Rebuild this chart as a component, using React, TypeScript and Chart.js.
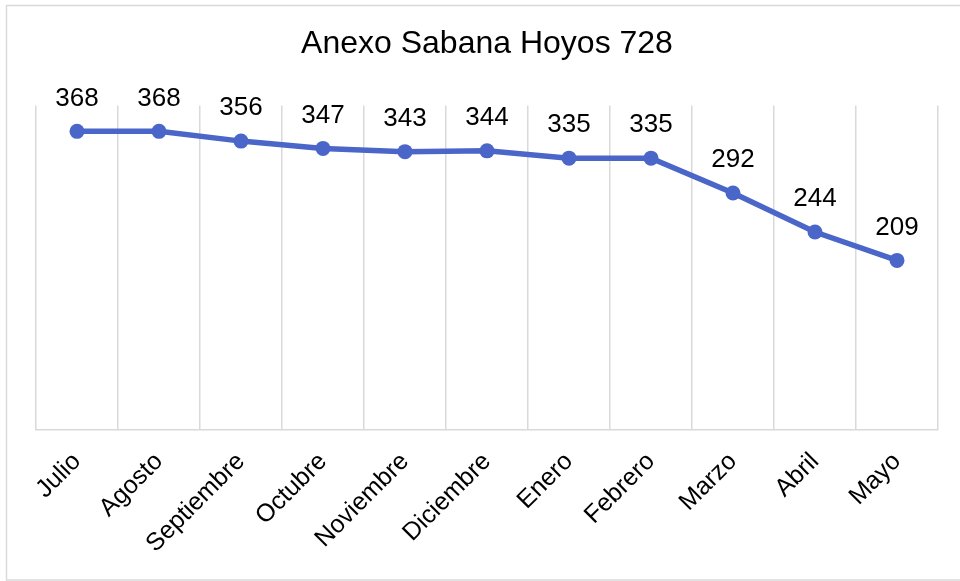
import React, { useEffect, useRef } from "react";
import { Chart, registerables } from "chart.js";

Chart.register(...registerables);

const categories = ["Julio", "Agosto", "Septiembre", "Octubre", "Noviembre", "Diciembre", "Enero", "Febrero", "Marzo", "Abril", "Mayo"];
const values = [368, 368, 356, 347, 343, 344, 335, 335, 292, 244, 209];
const titleText = "Anexo Sabana Hoyos 728";
const yMin = 0;
const yMax = 400;

const FONT = "'Liberation Sans', Arial, sans-serif";
const LINE_COLOR = "#4A66C8";
const GRID_COLOR = "#d9d9d9";

const borderPlugin = {
  id: "outerBorder",
  beforeDraw(chart: any) {
    const ctx = chart.ctx;
    ctx.save();
    ctx.fillStyle = "#ffffff";
    ctx.fillRect(0, 0, chart.width, chart.height);
    ctx.strokeStyle = GRID_COLOR;
    ctx.lineWidth = 1.5;
    ctx.beginPath();
    ctx.moveTo(chart.width + 2, 5.5);
    ctx.lineTo(6.5, 5.5);
    ctx.lineTo(6.5, 580);
    ctx.lineTo(chart.width + 2, 580);
    ctx.stroke();
    ctx.restore();
  },
};

const labelPlugin = {
  id: "pointLabels",
  afterDatasetsDraw(chart: any) {
    const ctx = chart.ctx;
    const meta = chart.getDatasetMeta(0);
    ctx.save();
    ctx.font = `26px ${FONT}`;
    ctx.fillStyle = "#000000";
    ctx.textAlign = "center";
    ctx.textBaseline = "middle";
    meta.data.forEach((pt: any, i: number) => {
      ctx.fillText(String(values[i]), pt.x, pt.y - 33);
    });
    ctx.restore();
  },
};

export default function App() {
  const ref = useRef<HTMLCanvasElement | null>(null);
  useEffect(() => {
    document.body.style.margin = "0";
    const canvas = ref.current;
    if (!canvas) return;
    const chart = new Chart(canvas, {
      type: "line",
      data: {
        labels: categories,
        datasets: [
          {
            data: values,
            borderColor: LINE_COLOR,
            backgroundColor: LINE_COLOR,
            borderWidth: 5.5,
            pointRadius: 7.5,
            pointHoverRadius: 7.5,
            pointBackgroundColor: LINE_COLOR,
            pointBorderColor: LINE_COLOR,
            pointBorderWidth: 0,
            tension: 0,
          },
        ],
      },
      options: {
        responsive: false,
        animation: false,
        devicePixelRatio: 1,
        layout: { padding: { left: 36, right: 22, top: 0, bottom: 0 } },
        plugins: {
          legend: { display: false },
          tooltip: { enabled: false },
          title: {
            display: true,
            text: titleText,
            color: "#000000",
            font: { family: FONT, size: 32, weight: "normal" as any },
            padding: { top: 25, bottom: 42 },
          },
        },
        scales: {
          x: {
            offset: true,
            grid: { offset: true, color: GRID_COLOR, lineWidth: 1.5, drawTicks: false },
            border: { color: GRID_COLOR, width: 1.5 },
            ticks: {
              color: "#000000",
              font: { family: FONT, size: 25 },
              minRotation: 45,
              maxRotation: 45,
              padding: 17,
              autoSkip: false,
            },
            afterFit(scale: any) {
              scale.height = 151;
            },
          },
          y: {
            display: false,
            min: yMin,
            max: yMax,
          },
        },
      },
      plugins: [borderPlugin, labelPlugin],
    });
    return () => chart.destroy();
  }, []);
  return (
    <div style={{ width: 960, height: 581, position: "relative" }}>
      <canvas ref={ref} width={960} height={581} style={{ width: 960, height: 581, display: "block" }} />
    </div>
  );
}
